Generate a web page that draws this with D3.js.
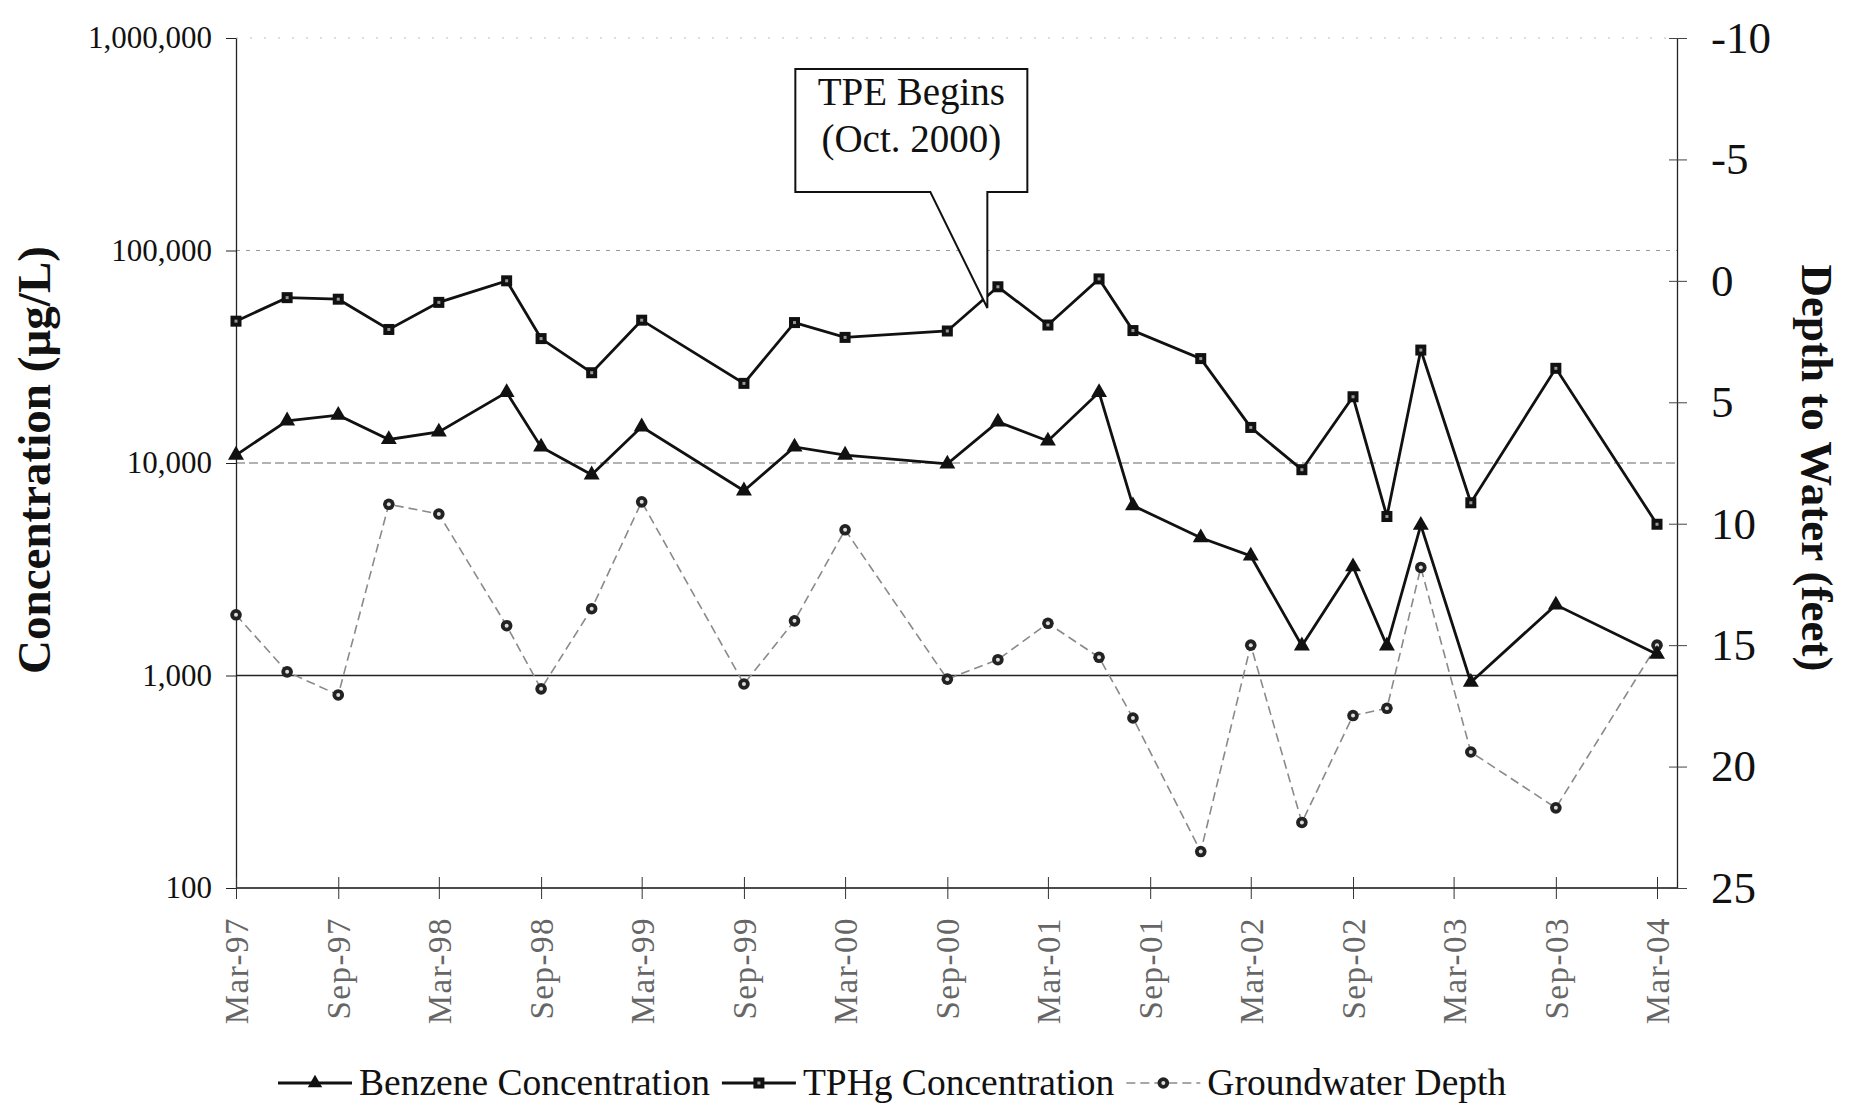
<!DOCTYPE html>
<html><head><meta charset="utf-8">
<script src="https://cdn.jsdelivr.net/npm/d3@7"></script>
<style>
body{margin:0;background:#fff;}
svg{display:block;}
text{font-family:"Liberation Serif","Times New Roman",serif;}
</style>
</head><body>
<svg id="chart" width="1849" height="1112"></svg>
<script>
// ---------------- data ----------------
const sampleDates = ["1997-03","1997-06","1997-09","1997-12","1998-03","1998-07","1998-09","1998-12","1999-03","1999-09","1999-12","2000-03","2000-09","2000-12","2001-03","2001-06","2001-08","2001-12","2002-03","2002-06","2002-09","2002-11","2003-01","2003-04","2003-09","2004-03"];
const benzene = [10900,15800,16800,12900,14000,21500,11900,8800,14800,7400,11900,10900,9900,15600,12700,21500,6300,4450,3650,1380,3250,1380,5100,930,2150,1260];
const tphg = [46500,60000,59000,42500,57000,72000,38500,26600,47000,23700,45800,39000,41800,67500,44600,73500,42000,31000,14700,9300,20500,5600,34000,6500,27900,5150];
const gwDepth = [13.75,16.1,17.05,9.2,9.6,14.2,16.8,13.5,9.1,16.6,14.0,10.25,16.4,15.6,14.1,15.5,18.0,23.5,15.0,22.3,17.9,17.6,11.8,19.4,21.7,15.0];
const xTickDates = ["1997-03","1997-09","1998-03","1998-09","1999-03","1999-09","2000-03","2000-09","2001-03","2001-09","2002-03","2002-09","2003-03","2003-09","2004-03"];
const leftTicks = [100,1000,10000,100000,1000000];
const rightTicks = [-10,-5,0,5,10,15,20,25];
const seriesNames = ["Benzene Concentration","TPHg Concentration","Groundwater Depth"];
const calloutLines = ["TPE Begins","(Oct. 2000)"];
const calloutAnchor = {date:"2000-11-12", value:53600};

// ---------------- setup ----------------
const parse = d3.timeParse("%Y-%m");
const parseDay = d3.timeParse("%Y-%m-%d");
const svg = d3.select("#chart");
const L = 236, R = 1677, T = 38, B = 888;
const FONT = '"Liberation Serif","Times New Roman",serif';

const x = d3.scaleTime().domain([parse("1997-03"), parse("2004-03")]).range([236, 1657]);
const yL = d3.scaleLog().domain([100, 1e6]).range([B, T]);
const yR = d3.scaleLinear().domain([-10, 25]).range([T, B]);

const rows = sampleDates.map((d,i)=>({date:parse(d), benz:benzene[i], tphg:tphg[i], gw:gwDepth[i]}));

// gridlines
const gridStyle = {
  1000:{stroke:"#222", dash:null, w:1.3},
  10000:{stroke:"#666", dash:"9,4", w:1.2},
  100000:{stroke:"#999", dash:"4,6", w:1.2},
  1000000:{stroke:"#bbb", dash:"2,12", w:1}
};
svg.append("g").selectAll("line").data([1000,10000,100000,1000000]).join("line")
  .attr("x1", L).attr("x2", R)
  .attr("y1", d=>yL(d)).attr("y2", d=>yL(d))
  .attr("stroke", d=>gridStyle[d].stroke)
  .attr("stroke-width", d=>gridStyle[d].w)
  .attr("stroke-dasharray", d=>gridStyle[d].dash);

// bottom baseline
svg.append("line").attr("x1", L).attr("x2", R).attr("y1", B).attr("y2", B)
  .attr("stroke","#111").attr("stroke-width",1.4);

// left axis
const gL = svg.append("g").attr("transform", `translate(${L},0)`)
  .call(d3.axisLeft(yL).tickValues(leftTicks).tickFormat(d3.format(",")).tickSizeInner(10).tickSizeOuter(0).tickPadding(14));
gL.select(".domain").attr("stroke","#222").attr("stroke-width",1.3);
gL.selectAll(".tick line").attr("stroke","#222");
gL.selectAll("text").attr("font-size",31).attr("fill","#111").style("font-family",FONT);

// right axis
const gR = svg.append("g").attr("transform", `translate(${R},0)`)
  .call(d3.axisRight(yR).tickValues(rightTicks).tickFormat(d=>String(d)).tickSizeInner(10).tickSizeOuter(0).tickPadding(24));
gR.select(".domain").attr("stroke","#222").attr("stroke-width",1.3);
gR.selectAll(".tick line").attr("x1",-8).attr("stroke","#444");
gR.selectAll("text").attr("font-size",45).attr("fill","#111").style("font-family",FONT);

// bottom axis
const gB = svg.append("g").attr("transform", `translate(0,${B})`)
  .call(d3.axisBottom(x).tickValues(xTickDates.map(parse)).tickFormat(d3.timeFormat("%b-%y")).tickSizeOuter(0));
gB.select(".domain").remove();
gB.selectAll(".tick line").attr("y1",-11).attr("y2",11).attr("stroke","#333");
gB.selectAll(".tick text")
  .attr("transform","rotate(-90)")
  .attr("x",-29).attr("y",0).attr("dy","0.35em")
  .style("text-anchor","end")
  .attr("font-size",33).attr("fill","#666")
  .attr("letter-spacing","1.5")
  .style("font-family",FONT);

// axis titles
svg.append("text").attr("transform","translate(34,460) rotate(-90)")
  .attr("text-anchor","middle").attr("dy","0.35em")
  .attr("font-size",47).attr("font-weight","bold").attr("fill","#111")
  .text("Concentration (\u00B5g/L)");
svg.append("text").attr("transform","translate(1818,468) rotate(90)")
  .attr("text-anchor","middle").attr("dy","0.35em")
  .attr("font-size",45).attr("font-weight","bold").attr("fill","#111")
  .text("Depth to Water (feet)");

// lines
const lineB = d3.line().x(d=>x(d.date)).y(d=>yL(d.benz));
const lineT = d3.line().x(d=>x(d.date)).y(d=>yL(d.tphg));
const lineG = d3.line().x(d=>x(d.date)).y(d=>yR(d.gw));

svg.append("path").datum(rows).attr("d", lineG).attr("fill","none")
  .attr("stroke","#8a8a8a").attr("stroke-width",1.6).attr("stroke-dasharray","9,5");
svg.append("path").datum(rows).attr("d", lineT).attr("fill","none")
  .attr("stroke","#111").attr("stroke-width",2.8).attr("stroke-linejoin","miter");
svg.append("path").datum(rows).attr("d", lineB).attr("fill","none")
  .attr("stroke","#111").attr("stroke-width",2.8).attr("stroke-linejoin","miter");

// markers
function square(g){
  g.append("rect").attr("x",-5.5).attr("y",-5.5).attr("width",11).attr("height",11).attr("fill","#111");
  g.append("rect").attr("x",-1.5).attr("y",-1.5).attr("width",3).attr("height",3).attr("fill","#999");
}
function circ(g){
  g.append("circle").attr("r",5.8).attr("fill","#222");
  g.append("circle").attr("r",2).attr("fill","#ddd");
}
const tri = d3.symbol(d3.symbolTriangle, 110);

svg.append("g").selectAll("g").data(rows).join("g")
  .attr("transform", d=>`translate(${x(d.date)},${yR(d.gw)})`).each(function(){circ(d3.select(this));});
svg.append("g").selectAll("g").data(rows).join("g")
  .attr("transform", d=>`translate(${x(d.date)},${yL(d.tphg)})`).each(function(){square(d3.select(this));});
svg.append("g").selectAll("path").data(rows).join("path")
  .attr("d", tri).attr("fill","#111")
  .attr("transform", d=>`translate(${x(d.date)},${yL(d.benz)})`);

// callout
const tipX = x(parseDay(calloutAnchor.date)), tipY = yL(calloutAnchor.value);
const bx0 = tipX-192, bx1 = tipX+40, by0 = tipY-239, by1 = tipY-116;
svg.append("path")
  .attr("d", `M${bx0},${by0}H${bx1}V${by1}H${tipX}V${tipY}L${tipX-57},${by1}H${bx0}Z`)
  .attr("fill","#fff").attr("stroke","#111").attr("stroke-width",2);
svg.append("g").selectAll("text").data(calloutLines).join("text")
  .attr("x",(bx0+bx1)/2).attr("y",(d,i)=>by0+36+i*47)
  .attr("text-anchor","middle").attr("font-size",39).attr("fill","#111")
  .text(d=>d);

// legend
const lg = svg.append("g").attr("transform","translate(278,1083)");
let cx = 0;
seriesNames.forEach((name,i)=>{
  const g = lg.append("g").attr("transform",`translate(${cx},0)`);
  const sw = 74;
  g.append("line").attr("x1",0).attr("x2",sw).attr("y1",0).attr("y2",0)
    .attr("stroke", i===2 ? "#8a8a8a" : "#111")
    .attr("stroke-width", i===2 ? 1.6 : 2.8)
    .attr("stroke-dasharray", i===2 ? "9,5" : null);
  const m = g.append("g").attr("transform",`translate(${sw/2},0)`);
  if(i===0) m.append("path").attr("d", d3.symbol(d3.symbolTriangle, 90)).attr("fill","#111");
  else if(i===1) square(m);
  else circ(m);
  const t = g.append("text").attr("x", sw+7).attr("y", 12).attr("font-size",37.5).attr("fill","#111").text(name);
  cx += sw + 7 + t.node().getComputedTextLength() + 12;
});
</script>
</body></html>
